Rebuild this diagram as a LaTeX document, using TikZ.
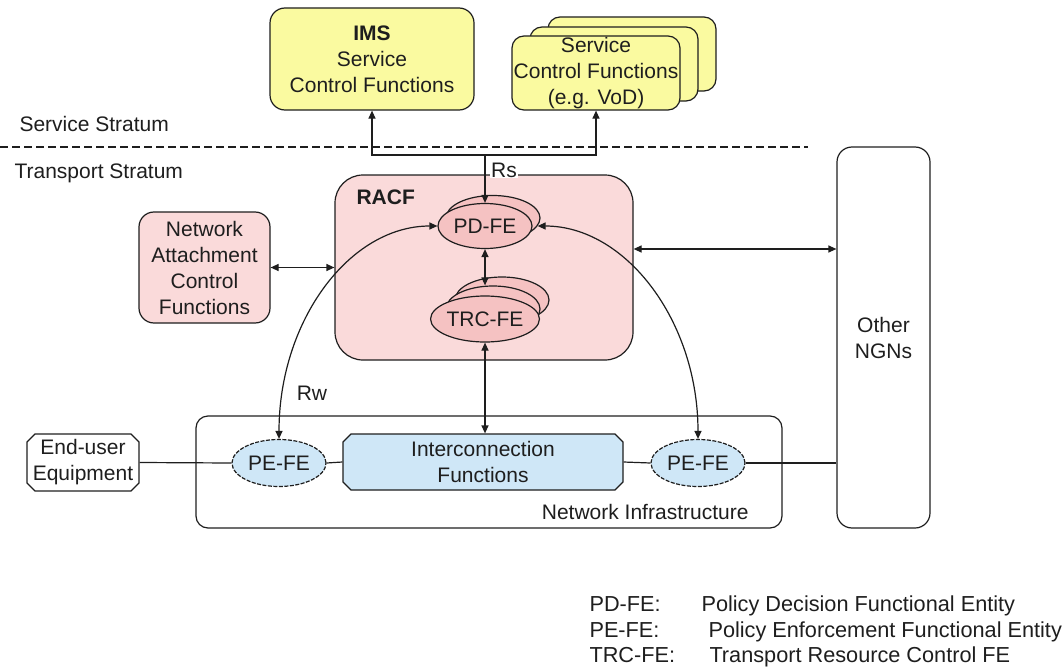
\documentclass[tikz,border=0pt]{standalone}
\usepackage{fontspec}
\setmainfont{Liberation Sans}
\usetikzlibrary{shapes.geometric,shapes.misc,arrows.meta}
\definecolor{yel}{RGB}{250,250,160}
\definecolor{pinkbg}{RGB}{250,218,218}
\definecolor{pinkel}{RGB}{245,194,194}
\definecolor{bluebg}{RGB}{207,231,247}
\definecolor{ln}{RGB}{30,30,30}
\tikzset{
  txt/.style={font=\fontsize{21}{26}\selectfont, text=ln},
  legtxt/.style={font=\fontsize{21.7}{26}\selectfont, text=ln, anchor=base west},
  box/.style={draw=ln, line width=1.2pt, rectangle, inner sep=0pt, align=center, txt},
  fe/.style={draw=ln, line width=1.2pt, ellipse, inner sep=0pt, minimum width=94pt, minimum height=45pt, txt},
  pefe/.style={fe, fill=bluebg, dash pattern=on 4pt off 1.5pt, minimum height=47pt},
  conn/.style={draw=ln, line width=1.2pt},
  tip/.style={-{Triangle[length=8pt,width=7pt]}},
  dtip/.style={{Triangle[length=8pt,width=7pt]}-{Triangle[length=8pt,width=7pt]}},
}
\begin{document}
\begin{tikzpicture}[x=1pt,y=-1pt]
\useasboundingbox (0,0) rectangle (1063,669);

% service stratum boxes
\node[box, fill=yel, rounded corners=15pt, minimum width=204pt, minimum height=102pt] (ims) at (372,59)
  {\textbf{IMS}\\Service\\Control Functions};
\node[box, fill=yel, rounded corners=12pt, minimum width=168pt, minimum height=74pt] (vodb) at (632,54) {};
\node[box, fill=yel, rounded corners=12pt, minimum width=168pt, minimum height=74pt] (vodm) at (614,64) {};
\node[box, fill=yel, rounded corners=12pt, minimum width=168pt, minimum height=74pt] (vod) at (596,73)
  {Service\\Control Functions\\(e.g. VoD)};

% strata
\coordinate (dl) at (0,147);
\coordinate (dr) at (808,147);
\draw[ln, line width=1.2pt, dash pattern=on 8pt off 4pt] (dl) -- (dr);
\node[txt, anchor=west] (ss) at (16,124) {Service Stratum};
\node[txt, anchor=west] (ts) at (11,173) {Transport Stratum};

% RACF
\node[box, fill=pinkbg, rounded corners=28pt, minimum width=298pt, minimum height=185pt] (racf) at (484,267.5) {};
\node[txt, anchor=west, font=\fontsize{21}{26}\selectfont\bfseries] (racft) at (353,197) {RACF};
\node[fe, fill=pinkel] (pdfeb) at (493,218) {};
\node[fe, fill=pinkel] (pdfe) at (485,226) {PD-FE};
\node[fe, fill=pinkel, minimum height=46pt] (trc3) at (502,300) {};
\node[fe, fill=pinkel, minimum height=46pt] (trc2) at (493,309) {};
\node[fe, fill=pinkel, minimum height=46pt] (trc) at (485,319) {TRC-FE};

% NACF
\node[box, fill=pinkbg, rounded corners=15pt, minimum width=131pt, minimum height=111pt] (nacf) at (204.5,267.5)
  {Network\\Attachment\\Control\\Functions};

% Other NGNs
\node[box, rounded corners=15pt, minimum width=93pt, minimum height=381pt] (ngn) at (883.5,337.5) {Other\\NGNs};

% Network infrastructure
\node[box, rounded corners=12pt, minimum width=586pt, minimum height=112pt] (ni) at (489,472) {};
\node[txt, anchor=east] (nit) at (752,512) {Network Infrastructure};
\node[box, chamfered rectangle, chamfered rectangle xsep=4pt, chamfered rectangle ysep=4pt, minimum width=112pt, minimum height=57pt] (eu) at (83,462.5)
  {End-user\\Equipment};
\node[box, fill=bluebg, chamfered rectangle, chamfered rectangle xsep=4pt, chamfered rectangle ysep=4pt, minimum width=280pt, minimum height=56pt] (ic) at (483,462)
  {Interconnection\\Functions};
\node[pefe] (pe1) at (279,463) {PE-FE};
\node[pefe] (pe2) at (698,463) {PE-FE};

% connectors
\coordinate (j) at (485,155);
\draw[conn, tip] (j) -| (ims.south);
\draw[conn, tip] (j) -| (vod.south);
\draw[conn, tip] (j) -- (pdfe.north);
\node[txt, fill=white, inner sep=1pt, anchor=west] (rs) at (490,170) {Rs};
\draw[conn, dtip] (pdfe.south) -- (pdfe.south |- trc2.north);
\draw[conn, dtip] (trc.south) -- (trc.south |- ic.north);
\draw[conn, dtip] (nacf.east) -- (racf.west);
\coordinate (ry) at (0,249);
\draw[conn, dtip] (racf.east |- ry) -- (ngn.west |- ry);
\draw[conn, dtip] (pdfe.west) .. controls +(-88,0) and +(0,-118) .. (pe1.north);
\draw[conn, dtip] ([xshift=5pt]pdfe.east) .. controls +(88,0) and +(0,-118) .. (pe2.north);
\node[txt] (rw) at (312,393) {Rw};
\draw[conn] (eu.east) -- (pe1.west);
\draw[conn] (pe1.east) -- (ic.west);
\draw[conn] (ic.east) -- (pe2.west);
\draw[conn] (pe2.east) -- (pe2.east -| ngn.west);

% legend
\node[legtxt] (l1) at (586,611) {PD-FE:};
\node[legtxt] (l1d) at (698,611) {Policy Decision Functional Entity};
\node[legtxt] (l2) at (586,637) {PE-FE:};
\node[legtxt] (l2d) at (705,637) {Policy Enforcement Functional Entity};
\node[legtxt] (l3) at (586,662) {TRC-FE:};
\node[legtxt] (l3d) at (706,662) {Transport Resource Control FE};
\end{tikzpicture}
\end{document}
